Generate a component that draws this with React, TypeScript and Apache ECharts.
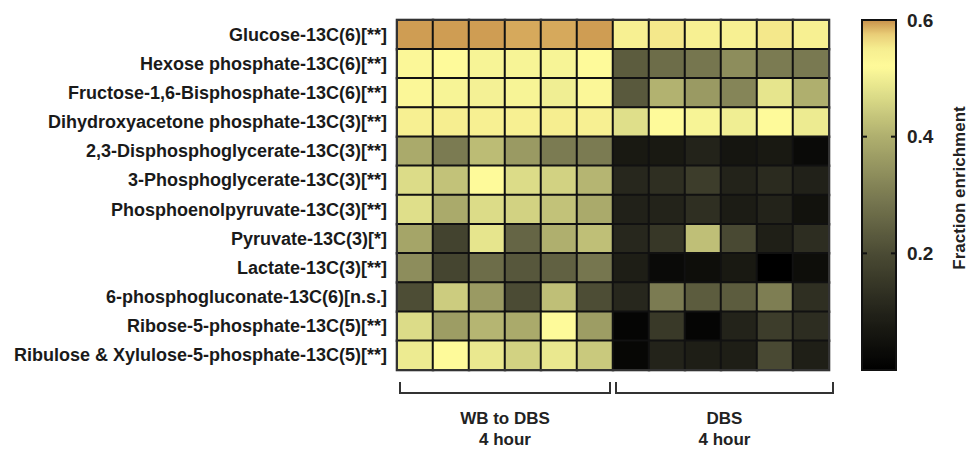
import React, { useEffect, useRef } from "react";
import * as echarts from "echarts";

const metabolites = [
  "Glucose-13C(6)[**]",
  "Hexose phosphate-13C(6)[**]",
  "Fructose-1,6-Bisphosphate-13C(6)[**]",
  "Dihydroxyacetone phosphate-13C(3)[**]",
  "2,3-Disphosphoglycerate-13C(3)[**]",
  "3-Phosphoglycerate-13C(3)[**]",
  "Phosphoenolpyruvate-13C(3)[**]",
  "Pyruvate-13C(3)[*]",
  "Lactate-13C(3)[**]",
  "6-phosphogluconate-13C(6)[n.s.]",
  "Ribose-5-phosphate-13C(5)[**]",
  "Ribulose & Xylulose-5-phosphate-13C(5)[**]",
];

const samples = [
  "WB-DBS 1", "WB-DBS 2", "WB-DBS 3", "WB-DBS 4", "WB-DBS 5", "WB-DBS 6",
  "DBS 1", "DBS 2", "DBS 3", "DBS 4", "DBS 5", "DBS 6",
];

// WB to DBS, 4 hour (6 replicates) per metabolite
const wbToDbs4h = [
  [0.595, 0.595, 0.595, 0.59, 0.59, 0.595],
  [0.515, 0.52, 0.51, 0.51, 0.51, 0.52],
  [0.515, 0.51, 0.505, 0.51, 0.5, 0.515],
  [0.545, 0.55, 0.545, 0.545, 0.55, 0.545],
  [0.39, 0.3, 0.42, 0.36, 0.3, 0.3],
  [0.47, 0.43, 0.52, 0.47, 0.455, 0.41],
  [0.475, 0.39, 0.47, 0.455, 0.43, 0.39],
  [0.38, 0.18, 0.485, 0.255, 0.4, 0.425],
  [0.335, 0.185, 0.27, 0.225, 0.245, 0.29],
  [0.205, 0.445, 0.36, 0.2, 0.425, 0.205],
  [0.47, 0.365, 0.41, 0.39, 0.52, 0.365],
  [0.495, 0.52, 0.49, 0.455, 0.49, 0.44],
];

// DBS, 4 hour (6 replicates) per metabolite
const dbs4h = [
  [0.545, 0.555, 0.545, 0.545, 0.555, 0.545],
  [0.235, 0.27, 0.29, 0.335, 0.3, 0.295],
  [0.23, 0.405, 0.36, 0.32, 0.485, 0.4],
  [0.475, 0.52, 0.51, 0.5, 0.52, 0.495],
  [0.07, 0.07, 0.1, 0.06, 0.07, 0.03],
  [0.11, 0.13, 0.165, 0.1, 0.12, 0.095],
  [0.095, 0.1, 0.13, 0.08, 0.1, 0.05],
  [0.11, 0.15, 0.425, 0.195, 0.09, 0.125],
  [0.085, 0.03, 0.04, 0.07, 0.0, 0.04],
  [0.11, 0.3, 0.235, 0.235, 0.305, 0.13],
  [0.015, 0.155, 0.015, 0.1, 0.165, 0.125],
  [0.02, 0.1, 0.085, 0.085, 0.195, 0.09],
];

const groupLabels = ["WB to DBS\n4 hour", "DBS\n4 hour"];
const colorbarTicks = [0.6, 0.4, 0.2];
const colorbarTickLabels = ["0.6", "0.4", "0.2"];
const colorbarTitle = "Fraction enrichment";
const valueMin = 0;
const valueMax = 0.6;

// colour ramp (style)
const rampStops: [number, string][] = [
  [0.0, "#000000"],
  [0.1, "#23231a"],
  [0.2, "#4b4b34"],
  [0.3, "#7b7b52"],
  [0.4, "#afaf6e"],
  [0.47, "#dcdc88"],
  [0.52, "#fefa9a"],
  [0.55, "#f6ee90"],
  [0.575, "#eacf78"],
  [0.6, "#c8904a"],
];

function hex(c: string) {
  return [1, 3, 5].map((i) => parseInt(c.slice(i, i + 2), 16));
}
function rampAt(v: number) {
  for (let i = 0; i < rampStops.length - 1; i++) {
    const [a, ca] = rampStops[i];
    const [b, cb] = rampStops[i + 1];
    if (v >= a && v <= b) {
      const t = (v - a) / (b - a);
      const A = hex(ca), B = hex(cb);
      const m = A.map((x, k) => Math.round(x + (B[k] - x) * t));
      return `rgb(${m[0]},${m[1]},${m[2]})`;
    }
  }
  return rampStops[rampStops.length - 1][1];
}

export default function App() {
  const ref = useRef<HTMLDivElement>(null);
  useEffect(() => {
    if (!ref.current) return;
    const chart = echarts.init(ref.current, null, { renderer: "svg" });

    const data: [number, number, number][] = [];
    metabolites.forEach((_, r) => {
      wbToDbs4h[r].forEach((v, c) => data.push([c, r, v]));
      dbs4h[r].forEach((v, c) => data.push([c + 6, r, v]));
    });

    const N = 121;
    const colors: string[] = [];
    for (let i = 0; i < N; i++) colors.push(rampAt(valueMin + ((valueMax - valueMin) * i) / (N - 1)));

    const gL = 397, gT = 20, gW = 432, gH = 350;
    const cbL = 862, cbT = 20, cbW = 34, cbH = 350;
    const font = "'Liberation Sans', Arial, sans-serif";

    const graphic: any[] = [];
    graphic.push({
      type: "rect",
      shape: { x: cbL, y: cbT, width: cbW, height: cbH },
      style: { fill: "none", stroke: "#111", lineWidth: 2 },
      z: 100,
    });
    colorbarTicks.forEach((t, i) => {
      const y = cbT + ((valueMax - t) / (valueMax - valueMin)) * cbH;
      if (i > 0) {
        graphic.push({ type: "line", shape: { x1: cbL, y1: y, x2: cbL + 5, y2: y }, style: { stroke: "#111", lineWidth: 2 }, z: 100 });
        graphic.push({ type: "line", shape: { x1: cbL + cbW - 5, y1: y, x2: cbL + cbW, y2: y }, style: { stroke: "#111", lineWidth: 2 }, z: 100 });
      }
      graphic.push({
        type: "text",
        x: cbL + cbW + 11,
        y: y,
        style: { text: colorbarTickLabels[i], font: `bold 19px ${font}`, fill: "#222", verticalAlign: "middle" },
        z: 100,
      });
    });
    graphic.push({
      type: "text",
      x: 959,
      y: 188,
      rotation: Math.PI / 2,
      style: { text: colorbarTitle, font: `bold 17px ${font}`, fill: "#222", align: "center", verticalAlign: "middle" },
    });
    const brackets = [
      [400, 610],
      [616, 833],
    ];
    brackets.forEach(([x1, x2], i) => {
      graphic.push({
        type: "polyline",
        shape: { points: [[x1, 382], [x1, 393], [x2, 393], [x2, 382]] },
        style: { stroke: "#333", lineWidth: 2, fill: "none" },
      });
      graphic.push({
        type: "text",
        x: (x1 + x2) / 2,
        y: 429,
        style: { text: groupLabels[i], font: `bold 17px ${font}`, fill: "#222", align: "center", verticalAlign: "middle", lineHeight: 21 },
      });
    });

    chart.setOption({
      animation: false,
      backgroundColor: "#fff",
      grid: { left: gL, top: gT, width: gW, height: gH, show: true, borderColor: "#333", borderWidth: 2, z: 10 },
      xAxis: { type: "category", data: samples, show: false },
      yAxis: {
        type: "category",
        data: metabolites,
        inverse: true,
        axisLine: { show: false },
        axisTick: { show: false },
        splitLine: { show: false },
        axisLabel: { color: "#1a1a1a", fontWeight: "bold", fontSize: 18, fontFamily: font, margin: 10 },
      },
      visualMap: {
        type: "continuous",
        min: valueMin,
        max: valueMax,
        left: cbL,
        top: cbT,
        itemWidth: cbW,
        itemHeight: cbH,
        padding: 0,
        calculable: false,
        showLabel: false,
        text: ["", ""],
        inRange: { color: colors },
      },
      series: [
        {
          type: "heatmap",
          data,
          itemStyle: { borderColor: "#111", borderWidth: 2 },
          emphasis: { disabled: true },
        },
      ],
      graphic,
    });
    return () => chart.dispose();
  }, []);
  return <div ref={ref} style={{ position: "fixed", left: 0, top: 0, width: 970, height: 449 }} />;
}
